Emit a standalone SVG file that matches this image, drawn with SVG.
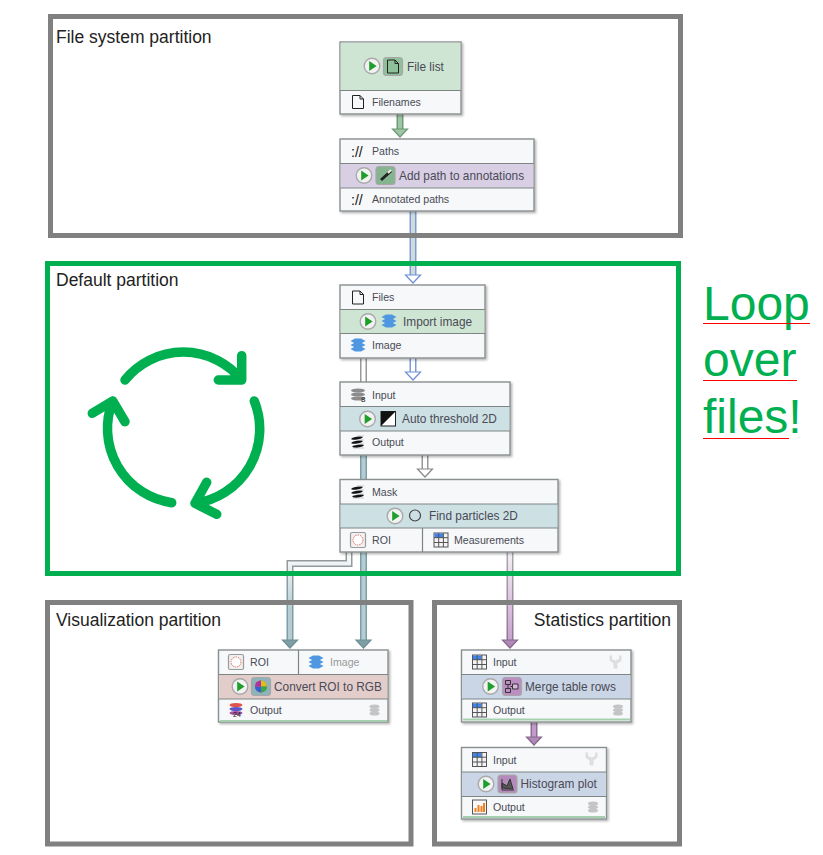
<svg xmlns="http://www.w3.org/2000/svg" width="823" height="855" viewBox="0 0 823 855">
<style>
text{font-family:"Liberation Sans",Arial,sans-serif;fill:#4a4a55}
.frame{fill:none;stroke:#808080;stroke-width:5}
.green{stroke:#00b050}
.ptitle{font-size:17.5px;fill:#222}
.slot{font-size:10.6px}
.name{font-size:11.85px}
.dim{fill:#999}
.box{fill:#f6f8fa;stroke:#8a8f8f;stroke-width:1.4}
.sep{stroke:#7f8585;stroke-width:1.2;fill:none}
.cycle{fill:none;stroke:#00b050;stroke-width:9.5;stroke-linecap:round;stroke-linejoin:round}
.big{font-size:48px;fill:#00b050}
.red{stroke:#f00;stroke-width:1.2}
.done{stroke:#a6cfb0;stroke-width:2}
.outer{fill:none;stroke-width:7}
.inner{fill:none;stroke-width:4}
</style>
<defs>
<filter id="sh" x="-5%" y="-5%" width="112%" height="115%"><feDropShadow dx="1.5" dy="1.5" stdDeviation="1.2" flood-color="#000" flood-opacity="0.3"/></filter>
<linearGradient id="gT" gradientUnits="userSpaceOnUse" x1="0" y1="550" x2="0" y2="610"><stop offset="0" stop-color="#999"/><stop offset="1" stop-color="#7c9ea6"/></linearGradient>
<linearGradient id="gTi" gradientUnits="userSpaceOnUse" x1="0" y1="550" x2="0" y2="610"><stop offset="0" stop-color="#fff"/><stop offset="1" stop-color="#b5cdd2"/></linearGradient>
<linearGradient id="gP" gradientUnits="userSpaceOnUse" x1="0" y1="552" x2="0" y2="650"><stop offset="0" stop-color="#aaa"/><stop offset="1" stop-color="#8f6f96"/></linearGradient>
<linearGradient id="gPi" gradientUnits="userSpaceOnUse" x1="0" y1="552" x2="0" y2="650"><stop offset="0" stop-color="#f4f0f4"/><stop offset="1" stop-color="#c29ac9"/></linearGradient>
<g id="play"><circle r="7.8" fill="#f2f2f2" stroke="#a9a9a9" stroke-width="1.4"/><path d="M-2.800-5 4.600 0-2.800 5Z" fill="#1e9e2a"/></g>
<g id="file"><path d="M-5.500-6.500H2L5.500-3V6.500H-5.500Z M2-6.500V-3H5.500" fill="none" stroke="#222" stroke-width="1"/></g>
<g id="layers"><g fill="#4f97e0"><path id="lay1" d="M-7.500-4-3-6.500H3L7.500-4 3-1.500H-3Z"/><path d="M-7.500 0-3-2.500H3L7.500 0 3 2.500H-3Z"/><path d="M-7.500 4-3 1.500H3L7.500 4 3 6.500H-3Z"/></g></g>
<g id="mask"><g fill="#111" transform="rotate(-8)"><ellipse cx="-.5" cy="-4" rx="5.800" ry="1.400"/><ellipse cx="-1" cy="0" rx="5.800" ry="1.400"/><ellipse cx="-.5" cy="4" rx="5.800" ry="1.400"/></g><path d="M-1-6H6M-1-2H6M-1 2H6M-5 6H6" stroke="#aaa" stroke-width=".6" fill="none"/></g>
<g id="gray8"><g fill="#8c8c8c"><ellipse cy="-4.500" rx="7" ry="2"/><ellipse cy="-.500" rx="7" ry="2"/><ellipse cy="3.500" rx="7" ry="2"/></g><text x="3" y="7" style="font-size:8px;fill:#222">8</text></g>
<g id="table"><rect x="-7" y="-7" width="14" height="14" fill="#f4f4f4" stroke="#555" stroke-width="1"/><rect x="-6.500" y="-6.500" width="8.500" height="4.500" fill="#3f83ee"/><path d="M-7-2.300H7M-7 2.500H7M-2.300-7V7M2.400-7V7" stroke="#555" stroke-width="1"/></g>
<g id="roi"><rect x="-7.500" y="-7.500" width="15" height="15" rx="1.500" fill="#f0f0f0" stroke="#9a9a9a" stroke-width="1.200"/><circle r="5" fill="#fff" stroke="#dd6b60" stroke-width="1" stroke-dasharray="1.500 1"/></g>
<g id="db"><g fill="#c4c4c4"><ellipse cy="-3.500" rx="5" ry="2"/><ellipse cy="0" rx="5" ry="2"/><ellipse cy="3.500" rx="5" ry="2"/></g></g>
<g id="merge"><path d="M-6-6H-1V-2H-6ZM-6 2H-1V6H-6ZM-3.500-2V2M-1 0H6" fill="none" stroke="#333"/><path d="M1-2.500H6.500V2.500H1Z" fill="#d7b8dc" stroke="#333"/></g>
<g id="funnel"><path d="M-6-6-3.500-6-3.500-2.500 0-1 3.500-2.500 3.500-6 6-6 6-1 2 2V7H-2V2L-6-1Z" fill="#dedede"/></g>
</defs>
<rect width="823" height="855" fill="#fff"/>

<g id="connectors">
<g stroke-linejoin="miter">
<path class="outer" d="M400 114V132" stroke="#6f9a78"/><path class="inner" d="M400 114V132" stroke="#9ec5a5"/>
<path d="M392.500 129H407.500L400 137Z" fill="#9ec5a5" stroke="#6f9a78" stroke-width="1.200"/>

<path class="outer" d="M413 211V277" stroke="#7a9bd8"/><path class="inner" d="M413 211V277" stroke="#cfdcd6"/>
<path d="M405.500 275H420.500L413 283Z" fill="#fff" stroke="#6f8fd8" stroke-width="1.200"/>

<path class="outer" d="M413 358V375" stroke="#7a9bd8"/><path class="inner" d="M413 358V375" stroke="#fff"/>
<path d="M405.500 372H420.500L413 380Z" fill="#fff" stroke="#6f8fd8" stroke-width="1.200"/>

<path class="outer" d="M363.500 358V382" stroke="#999"/><path class="inner" d="M363.500 358V382" stroke="#fff"/>
<path class="outer" d="M363.500 455V642" stroke="#7c9ea6"/><path class="inner" d="M363.500 455V642" stroke="#b5cdd2"/>
<path d="M356 640H371L363.500 648Z" fill="#7f9fa6" stroke="#6f8f96" stroke-width="1.200"/>

<path class="outer" d="M425 455V472" stroke="#999"/><path class="inner" d="M425 455V472" stroke="#fff"/>
<path d="M417.500 469H432.500L425 477Z" fill="#fff" stroke="#888" stroke-width="1.200"/>

<path class="outer" d="M349 552V563.500H290V642" stroke="url(#gT)"/><path class="inner" d="M349 552V563.500H290V642" stroke="url(#gTi)"/>
<path d="M282.500 640H297.500L290 648Z" fill="#7f9fa6" stroke="#6f8f96" stroke-width="1.200"/>

<path class="outer" d="M510 552V642" stroke="url(#gP)"/><path class="inner" d="M510 552V642" stroke="url(#gPi)"/>
<path d="M502.500 640H517.500L510 648Z" fill="#b089b8" stroke="#86688c" stroke-width="1.200"/>

<path class="outer" d="M534 722V740" stroke="#8c6f93"/><path class="inner" d="M534 722V740" stroke="#c29ac9"/>
<path d="M526.500 737H541.500L534 745Z" fill="#b089b8" stroke="#86688c" stroke-width="1.200"/>
</g>
</g>

<g id="partition-filesystem"><rect class="frame" x="50.500" y="16.500" width="630" height="219"/><text class="ptitle" x="56" y="42.500">File system partition</text></g>
<g id="partition-default"><rect class="frame green" x="47.500" y="263.500" width="631" height="310"/><text class="ptitle" x="56" y="286">Default partition</text></g>
<g id="partition-visualization"><rect class="frame" x="47.500" y="602.500" width="363.500" height="241.500"/><text class="ptitle" x="56" y="626">Visualization partition</text></g>
<g id="partition-statistics"><rect class="frame" x="434.500" y="602.500" width="245" height="241.500"/><text class="ptitle" x="671" y="626" text-anchor="end">Statistics partition</text></g>

<g id="node-file-list">
<rect class="box" x="340" y="42" width="121" height="72" filter="url(#sh)"/>
<rect x="340.700" y="42.700" width="119.600" height="48" fill="#cfe5d4"/>
<path class="sep" d="M340 90.500H461"/>
<use href="#play" x="372" y="66"/>
<rect x="383.500" y="57.500" width="19" height="18" rx="3" fill="#8fc09a" stroke="#a7a7a7" stroke-width="1.200"/>
<use href="#file" x="393" y="66.500"/>
<text class="name" x="407" y="70.500">File list</text>
<use href="#file" x="358" y="102"/>
<text class="slot" x="372" y="106">Filenames</text>
</g>

<g id="node-add-path">
<rect class="box" x="340" y="139" width="194" height="72" filter="url(#sh)"/>
<rect x="340.700" y="163.500" width="192.600" height="24.500" fill="#d8cfe5"/>
<path class="sep" d="M340 163.500H534M340 188H534"/>
<text x="351" y="156.500" style="font-size:14px;fill:#111">://</text>
<text class="slot" x="372" y="155">Paths</text>
<use href="#play" x="364" y="175.500"/>
<rect x="376" y="166.500" width="19" height="18" rx="3" fill="#85b58f" stroke="#a7a7a7" stroke-width="1.200"/>
<path d="M381 180 391 171" stroke="#222" stroke-width="3"/><path d="M388 173 391 170" stroke="#eee" stroke-width="2"/>
<text class="name" x="399" y="179.500">Add path to annotations</text>
<text x="351" y="204.500" style="font-size:14px;fill:#111">://</text>
<text class="slot" x="372" y="203">Annotated paths</text>
</g>

<g id="node-import-image">
<rect class="box" x="340" y="285" width="145" height="73" filter="url(#sh)"/>
<rect x="340.700" y="309.500" width="143.600" height="24" fill="#cfe5d4"/>
<path class="sep" d="M340 309.500H485M340 333.500H485"/>
<use href="#file" x="358" y="297.500"/>
<text class="slot" x="372" y="301">Files</text>
<use href="#play" x="368" y="321.500"/>
<use href="#layers" x="389" y="321"/>
<text class="name" x="403" y="325.500">Import image</text>
<use href="#layers" x="358" y="345"/>
<text class="slot" x="372" y="349">Image</text>
</g>

<g id="node-auto-threshold">
<rect class="box" x="340" y="382" width="170" height="73" filter="url(#sh)"/>
<rect x="340.700" y="406.500" width="168.600" height="24.500" fill="#cde0e4"/>
<path class="sep" d="M340 406.500H510M340 431H510"/>
<use href="#gray8" x="358" y="395"/>
<text class="slot" x="372" y="399">Input</text>
<use href="#play" x="367.500" y="419"/>
<rect x="381" y="411.500" width="14.500" height="14.500" fill="#fff" stroke="#222"/><path d="M381 426 395.500 411.500H381Z" fill="#111"/>
<text class="name" x="402" y="423">Auto threshold 2D</text>
<use href="#mask" x="358" y="442"/>
<text class="slot" x="372" y="446">Output</text>
</g>

<g id="node-find-particles">
<rect class="box" x="340" y="479.500" width="218" height="72.500" filter="url(#sh)"/>
<rect x="340.700" y="504" width="216.600" height="24" fill="#cde0e4"/>
<path class="sep" d="M340 504H558M340 528H558M422.500 528V552"/>
<use href="#mask" x="358" y="492"/>
<text class="slot" x="372" y="496">Mask</text>
<use href="#play" x="395" y="516"/>
<circle cx="415" cy="515.500" r="5.500" fill="none" stroke="#444" stroke-width="1.200"/>
<text class="name" x="429" y="520">Find particles 2D</text>
<use href="#roi" x="358" y="540"/>
<text class="slot" x="372" y="544">ROI</text>
<use href="#table" x="441" y="540"/>
<text class="slot" x="454" y="544">Measurements</text>
</g>

<g id="node-convert-roi">
<rect class="box" x="218.500" y="650" width="169.500" height="72" filter="url(#sh)"/>
<rect x="219.200" y="674.500" width="168.100" height="24.500" fill="#e3cdcb"/>
<path class="sep" d="M218.500 674.500H388M218.500 699H388M298.500 650V674.500"/>
<use href="#roi" x="236" y="662"/>
<text class="slot" x="250" y="666">ROI</text>
<use href="#layers" x="316" y="662"/>
<text class="slot dim" x="330" y="666">Image</text>
<use href="#play" x="240" y="686.500"/>
<rect x="251.500" y="677.500" width="19" height="18" rx="3" fill="#8db4bd" stroke="#a7a7a7" stroke-width="1.200"/>
<circle cx="261" cy="686.500" r="6" fill="#e0662c"/><path d="M261 686.500V680.500A6 6 0 0 1 267 686.500Z" fill="#d8c020"/><path d="M261 686.500H267A6 6 0 0 1 261 692.500Z" fill="#38a848"/><path d="M261 686.500V692.500A6 6 0 0 1 255 686.500Z" fill="#3560d8"/><path d="M261 686.500H255A6 6 0 0 1 261 680.500Z" fill="#b030a0"/>
<text class="name" x="274" y="690.500">Convert ROI to RGB</text>
<g transform="translate(236 709)"><ellipse cy="-4" rx="6.500" ry="2" fill="#e0524a"/><ellipse cy="0" rx="6.500" ry="2" fill="#5a55c8"/><ellipse cy="4" rx="6.500" ry="2" fill="#a050a0"/><text x="-3" y="8" style="font-size:7px;fill:#222">24</text></g>
<text class="slot" x="250" y="714">Output</text>
<use href="#db" x="374.500" y="710"/>
<path class="done" d="M220 721H387"/>
</g>

<g id="node-merge-table">
<rect class="box" x="461.500" y="650" width="169.500" height="72" filter="url(#sh)"/>
<rect x="462.200" y="674.500" width="168.100" height="24.500" fill="#cad5e6"/>
<path class="sep" d="M461.500 674.500H631M461.500 699H631"/>
<use href="#table" x="479.500" y="662"/>
<text class="slot" x="493" y="666">Input</text>
<use href="#funnel" x="615.500" y="661.500"/>
<use href="#play" x="490.500" y="686.500"/>
<rect x="502.500" y="677.500" width="19" height="18" rx="3" fill="#bc8ec2" stroke="#a7a7a7" stroke-width="1.200"/>
<use href="#merge" x="511.500" y="686.500"/>
<text class="name" x="525" y="690.500">Merge table rows</text>
<use href="#table" x="479.500" y="710"/>
<text class="slot" x="493" y="714">Output</text>
<use href="#db" x="618" y="710"/>
<path class="done" d="M463 719.500H630"/>
</g>

<g id="node-histogram">
<rect class="box" x="461.500" y="747.500" width="145" height="71.500" filter="url(#sh)"/>
<rect x="462.200" y="772" width="143.600" height="24.500" fill="#cad5e6"/>
<path class="sep" d="M461.500 772H606.500M461.500 796.500H606.500"/>
<use href="#table" x="479.500" y="759.500"/>
<text class="slot" x="493" y="764">Input</text>
<use href="#funnel" x="591.500" y="758.500"/>
<use href="#play" x="486" y="784"/>
<rect x="498" y="775" width="19" height="18" rx="3" fill="#b48aba" stroke="#a7a7a7" stroke-width="1.200"/>
<path d="M502 790V779M502 790H514M502 788V783L507 786 510 779 513 789Z" fill="#555" stroke="#333"/>
<text class="name" x="520.500" y="788">Histogram plot</text>
<g transform="translate(479.500 807)"><rect x="-7" y="-7" width="14" height="14" fill="#f8f8f8" stroke="#555"/><path d="M-5 5V1H-3V5ZM-2 5V-2H0V5ZM1 5V-1H3V5ZM3.500 5V-4H5.500V5Z" fill="#f08020"/></g>
<text class="slot" x="493" y="811">Output</text>
<use href="#db" x="593" y="807"/>
<path class="done" d="M463 817H605"/>
</g>

<g id="cycle">
<path class="cycle" d="M125 380A75 75 0 0 1 241.700 380M241.700 355.700V380H218.300"/>
<path class="cycle" d="M254.300 401A75 75 0 0 1 195 503.300M206.700 482.300 195 503.300 216.700 514.300"/>
<path class="cycle" d="M171.700 502.700A75 75 0 0 1 112.700 401M92.300 413.300 112.700 401 125 421.700"/>
</g>

<g id="note">
<text class="big" x="703" y="319.500">Loop</text>
<text class="big" x="703" y="376">over</text>
<text class="big" x="703" y="433">files!</text>
<path class="red" d="M703 323.500H810M703 380.500H797M703 438.500H789"/>
</g>
</svg>
